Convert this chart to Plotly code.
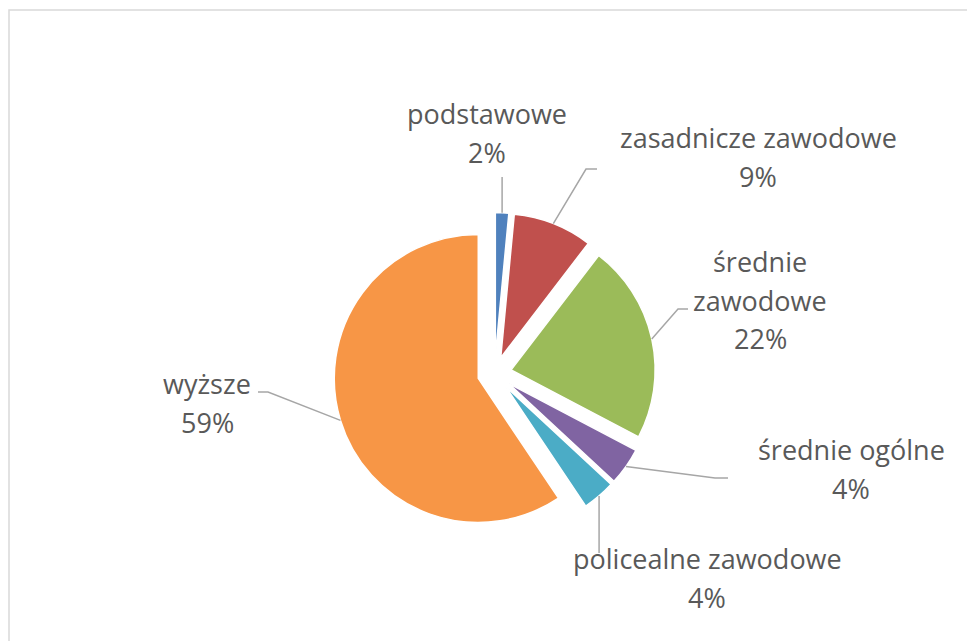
import math
import plotly.graph_objects as go

# ---------------- data ----------------
labels = ["podstawowe", "zasadnicze zawodowe", "średnie zawodowe",
          "średnie ogólne", "policealne zawodowe", "wyższe"]
label_lines = [["podstawowe"], ["zasadnicze zawodowe"], ["średnie", "zawodowe"],
               ["średnie ogólne"], ["policealne zawodowe"], ["wyższe"]]
values = [1.5, 8.9, 22.3, 4.2, 3.7, 59.4]
colors = ["#4F81BD", "#C0504D", "#9BBB59", "#8064A2", "#4BACC6", "#F79646"]

# ---------------- layout constants ----------------
W, H = 967, 641
PULL = 0.118
DOM_X = [0.3449, 0.6779]
DOM_Y = [0.1661, 0.6685]
FONT = "Open Sans"
FSIZE = 27
TXT_COLOR = "#595959"
LINE_COLOR = "#A6A6A6"
LINE_GAP = 38.5
# label block: centre x, first-line baseline y (pixels)
label_pos = [(487, 124), (758, 148), (760, 272), (851, 460), (707, 569), (207, 394)]
# leader line points after the slice attachment (pixels); None x -> same x as attachment
leader = [[(None, 177)], [(586, 169), (597, 169)], [(678, 309), (688, 309)],
          [(715, 478), (728, 478)], [(None, 553)], [(268, 392), (258, 392)]]

total = sum(values)
pcts = [f"{int(v / total * 100 + 0.5)}%" for v in values]

fig = go.Figure(go.Pie(
    labels=labels, values=values, sort=False, direction="clockwise", rotation=0,
    pull=[PULL] * len(values), textinfo="none", hoverinfo="label+percent",
    marker=dict(colors=colors, line=dict(color="white", width=1.5)),
    domain=dict(x=DOM_X, y=DOM_Y), showlegend=False,
))

def px2paper(x, y):
    return x / W, 1 - y / H

# geometry of the pie (same as plotly's own scaling)
bw = W * (DOM_X[1] - DOM_X[0])
bh = H * (DOM_Y[1] - DOM_Y[0])
r = min(bw, bh) / 2 / (1 + PULL)
cx = W * (DOM_X[0] + DOM_X[1]) / 2
cy = H * (1 - (DOM_Y[0] + DOM_Y[1]) / 2)

annotations = []
shapes = []
cum = 0.0
for i, v in enumerate(values):
    mid = (cum + v / 2) / total * 2 * math.pi
    cum += v
    ax = cx + (1 + PULL) * r * math.sin(mid)
    ay = cy - (1 + PULL) * r * math.cos(mid)
    pts = [(ax, ay)] + [((ax if x is None else x), y) for x, y in leader[i]]
    path = "M " + " L ".join(f"{px2paper(x, y)[0]:.5f},{px2paper(x, y)[1]:.5f}" for x, y in pts)
    shapes.append(dict(type="path", path=path, xref="paper", yref="paper",
                       line=dict(color=LINE_COLOR, width=1.5)))
    lx, ly = label_pos[i]
    lines = label_lines[i] + [pcts[i]]
    for j, t in enumerate(lines):
        base = ly + j * LINE_GAP
        px, py = px2paper(lx, base - 0.388 * FSIZE)
        annotations.append(dict(text=t, x=px, y=py, xref="paper", yref="paper",
                                xanchor="center", yanchor="middle", showarrow=False,
                                font=dict(family=FONT, size=FSIZE, color=TXT_COLOR)))

# chart border (light gray): only top and left edges are inside the picture
bx, by = px2paper(9, 10)
shapes.append(dict(type="path", xref="paper", yref="paper",
                   path=f"M {bx:.5f},-0.05 L {bx:.5f},{by:.5f} L 1.05,{by:.5f}",
                   line=dict(color="#D9D9D9", width=1.5)))

fig.update_layout(
    width=W, height=H, margin=dict(l=0, r=0, t=0, b=0),
    paper_bgcolor="white", plot_bgcolor="white",
    annotations=annotations, shapes=shapes,
)

fig.write_html("out.html", config={"displayModeBar": False},
               post_script="document.body.style.margin='0';")
